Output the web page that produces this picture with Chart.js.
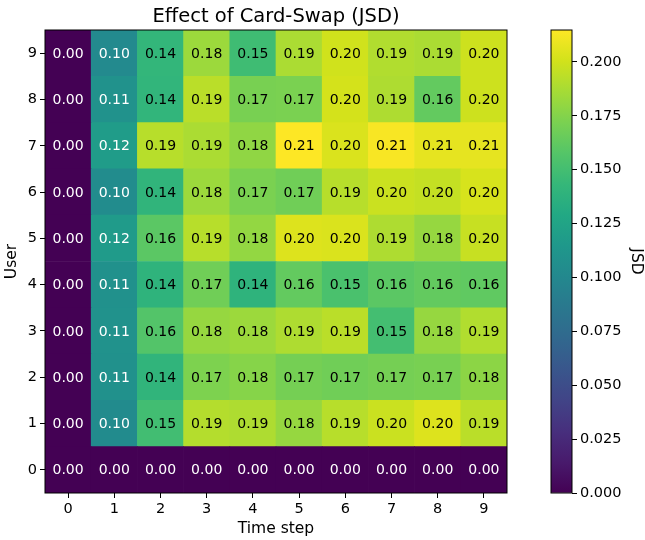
<!DOCTYPE html>
<html>
<head>
<meta charset="utf-8">
<script src="https://cdn.jsdelivr.net/npm/chart.js@4"></script>
<style>
  html, body { margin: 0; padding: 0; background: #fff; }
  #wrap { position: relative; width: 645px; height: 540px; }
  #heat { position: absolute; left: 0; top: 0; }
  #cbar { position: absolute; left: 540px; top: 0; }
</style>
</head>
<body>
<div id="wrap">
  <canvas id="heat" width="552" height="540"></canvas>
  <canvas id="cbar" width="105" height="540"></canvas>
</div>
<script>
// datos: jsd[usuario][paso de tiempo]
const timeSteps = ['0', '1', '2', '3', '4', '5', '6', '7', '8', '9'];
const users = [0, 1, 2, 3, 4, 5, 6, 7, 8, 9];
const jsd = [
  [0.000, 0.000, 0.000, 0.000, 0.000, 0.000, 0.000, 0.000, 0.000, 0.000], // user 0
  [0.000, 0.103, 0.149, 0.191, 0.189, 0.181, 0.192, 0.198, 0.204, 0.193], // user 1
  [0.000, 0.108, 0.140, 0.173, 0.176, 0.170, 0.168, 0.170, 0.171, 0.178], // user 2
  [0.000, 0.109, 0.157, 0.181, 0.183, 0.189, 0.193, 0.150, 0.181, 0.190], // user 3
  [0.000, 0.108, 0.139, 0.168, 0.139, 0.163, 0.153, 0.160, 0.163, 0.162], // user 4
  [0.000, 0.117, 0.160, 0.192, 0.180, 0.204, 0.203, 0.189, 0.181, 0.197], // user 5
  [0.000, 0.104, 0.140, 0.183, 0.172, 0.168, 0.192, 0.198, 0.196, 0.202], // user 6
  [0.000, 0.118, 0.192, 0.188, 0.179, 0.2148, 0.203, 0.213, 0.207, 0.207], // user 7
  [0.000, 0.109, 0.141, 0.193, 0.171, 0.172, 0.201, 0.189, 0.163, 0.199], // user 8
  [0.000, 0.102, 0.142, 0.183, 0.148, 0.188, 0.200, 0.190, 0.188, 0.199]  // user 9
];
const cbarTicks = [0, 0.025, 0.05, 0.075, 0.1, 0.125, 0.15, 0.175, 0.2];

const vmax = Math.max(...jsd.flat());

// viridis
const viridisStops = ['#440154', '#481a6c', '#472f7d', '#414487', '#39568c', '#31688e', '#2a788e', '#23888e',
  '#1f988b', '#22a884', '#35b779', '#54c568', '#7ad151', '#a5db36', '#d2e21b', '#fde725'];

function hexToRgb(h) {
  return [parseInt(h.slice(1, 3), 16), parseInt(h.slice(3, 5), 16), parseInt(h.slice(5, 7), 16)];
}

function viridis(t) {
  t = Math.min(1, Math.max(0, t));
  const pos = t * (viridisStops.length - 1);
  const i = Math.min(viridisStops.length - 2, Math.floor(pos));
  const f = pos - i;
  const a = hexToRgb(viridisStops[i]);
  const b = hexToRgb(viridisStops[i + 1]);
  const c = a.map((v, k) => Math.round(v + (b[k] - v) * f));
  return 'rgb(' + c.join(',') + ')';
}

Chart.defaults.font.family = 'DejaVu Sans';
Chart.defaults.color = '#000';

// etiquetas de las celdas y marco
const cellLabels = {
  id: 'cellLabels',
  afterDatasetsDraw(chart) {
    const ctx = chart.ctx;
    const xs = chart.scales.x;
    const ys = chart.scales.y;
    ctx.save();
    ctx.font = '14px "DejaVu Sans"';
    ctx.textAlign = 'center';
    ctx.textBaseline = 'middle';
    users.forEach(u => {
      timeSteps.forEach((t, i) => {
        const v = jsd[u][i];
        ctx.fillStyle = v < 0.13 ? '#ffffff' : '#000000';
        ctx.fillText(v.toFixed(2), xs.getPixelForValue(i), ys.getPixelForValue(u) + 1);
      });
    });
    const a = chart.chartArea;
    ctx.strokeStyle = '#000';
    ctx.lineWidth = 1;
    ctx.strokeRect(a.left, a.top, a.right - a.left, a.bottom - a.top);
    ctx.restore();
  }
};

const heatCtx = document.getElementById('heat').getContext('2d');
const heatChart = new Chart(heatCtx, {
  type: 'bar',
  data: {
    labels: timeSteps,
    datasets: users.map(u => ({
      label: 'User ' + u,
      data: timeSteps.map(() => [u - 0.5, u + 0.5]),
      backgroundColor: jsd[u].map(v => viridis(v / vmax)),
      borderWidth: 0,
      grouped: false,
      barPercentage: 1,
      categoryPercentage: 1
    }))
  },
  options: {
    responsive: false,
    animation: false,
    layout: { padding: { left: 0, right: 45, top: 0, bottom: 0 } },
    plugins: {
      legend: { display: false },
      tooltip: { enabled: false },
      title: {
        display: true,
        text: 'Effect of Card-Swap (JSD)',
        fullSize: false,
        color: '#000',
        font: { size: 19.5, weight: 'normal' },
        padding: { top: 5, bottom: 1.6 }
      }
    },
    scales: {
      x: {
        type: 'category',
        offset: true,
        grid: { display: true, drawOnChartArea: false, offset: false, tickLength: 5, tickColor: '#000' },
        border: { display: false },
        ticks: { font: { size: 14.5 }, padding: 3, maxRotation: 0 },
        title: { display: true, text: 'Time step', font: { size: 15.5 }, padding: { top: 0, bottom: 2 } },
        afterFit(scale) { scale.height = 47; }
      },
      y: {
        type: 'linear',
        min: -0.5,
        max: 9.5,
        grid: { display: true, drawOnChartArea: false, tickLength: 5, tickColor: '#000' },
        border: { display: false },
        ticks: { font: { size: 14.5 }, padding: 3 },
        afterBuildTicks(scale) { scale.ticks = users.map(v => ({ value: v })); },
        title: { display: true, text: 'User', font: { size: 15.5 }, padding: { top: 3, bottom: 0 } },
        afterFit(scale) { scale.width = 45; }
      }
    }
  },
  plugins: [cellLabels]
});

// barra de color
const cbarFrame = {
  id: 'cbarFrame',
  afterDatasetsDraw(chart) {
    const a = chart.chartArea;
    const ctx = chart.ctx;
    ctx.save();
    ctx.strokeStyle = '#000';
    ctx.lineWidth = 1;
    ctx.strokeRect(a.left, a.top, a.right - a.left, a.bottom - a.top);
    ctx.restore();
  }
};

const cbarCtx = document.getElementById('cbar').getContext('2d');
const cbarChart = new Chart(cbarCtx, {
  type: 'bar',
  data: {
    labels: ['JSD'],
    datasets: [{
      data: [[0, vmax]],
      borderWidth: 0,
      barPercentage: 1,
      categoryPercentage: 1,
      backgroundColor(context) {
        const area = context.chart.chartArea;
        if (!area) return null;
        const g = context.chart.ctx.createLinearGradient(0, area.bottom, 0, area.top);
        viridisStops.forEach((c, i) => g.addColorStop(i / (viridisStops.length - 1), c));
        return g;
      }
    }]
  },
  options: {
    responsive: false,
    animation: false,
    layout: { padding: { left: 11, right: 0, top: 30, bottom: 47 } },
    plugins: { legend: { display: false }, tooltip: { enabled: false } },
    scales: {
      x: { display: false, offset: true },
      y: {
        position: 'right',
        min: 0,
        max: vmax,
        grid: { display: true, drawOnChartArea: false, tickLength: 5, tickColor: '#000' },
        border: { display: false },
        afterBuildTicks(scale) { scale.ticks = cbarTicks.map(v => ({ value: v })); },
        ticks: { font: { size: 14.5 }, padding: 3, callback: v => v.toFixed(3) },
        title: { display: true, text: 'JSD', font: { size: 15.5 }, padding: { top: 0, bottom: 0 } },
        afterFit(scale) { scale.width = 73; }
      }
    }
  },
  plugins: [cbarFrame]
});
</script>
</body>
</html>
